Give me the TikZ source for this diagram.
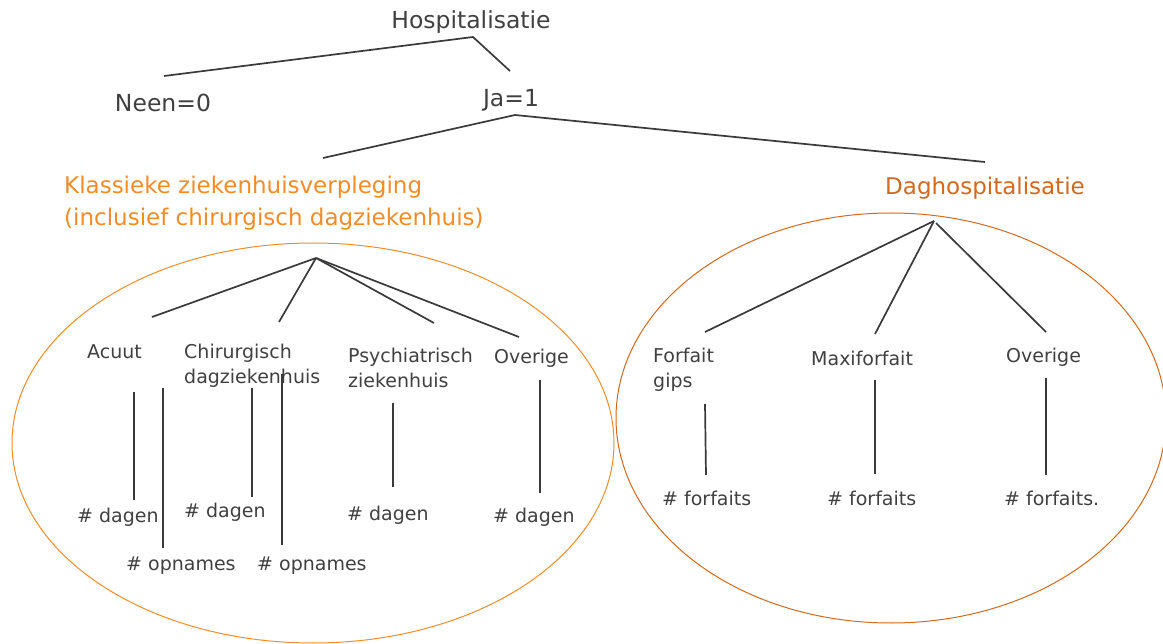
\documentclass[tikz,border=0pt]{standalone}
\usepackage{fontspec}
\setmainfont{DejaVu Sans}
\definecolor{txt}{HTML}{404040}
\definecolor{ln}{HTML}{3A3A3A}
\definecolor{orlight}{HTML}{F28C28}
\definecolor{ordark}{HTML}{D2691E}
\begin{document}
\begin{tikzpicture}[x=1pt,y=-1pt,
  big/.style={text=txt,font=\fontsize{23.5}{28}\selectfont,inner sep=0pt},
  small/.style={text=txt,font=\fontsize{19}{25}\selectfont,inner sep=0pt,align=left,anchor=west},
  head/.style={font=\fontsize{23}{32}\selectfont,inner sep=0pt,align=left,anchor=west},
  edge/.style={draw=ln,line width=1.7pt},
  oval/.style={line width=1pt}]
\useasboundingbox (0,0) rectangle (1163,644);
% ellipses
\draw[oval,draw=orlight] (313,443) ellipse [x radius=301, y radius=200];
\draw[oval,draw=ordark] (891,418) ellipse [x radius=275, y radius=205];
% top
\node[big] (hosp) at (471,22) {Hospitalisatie};
\node[big] (neen) at (163,103) {Neen=0};
\node[big] (ja) at (511,100) {Ja=1};
\coordinate (h0) at (473,37);
\coordinate (nTop) at (164,76);
\coordinate (jTop) at (510,71);
\draw[edge] (nTop) -- (h0) -- (jTop);
\coordinate (j0) at (515,115);
\coordinate (kTop) at (323,158);
\coordinate (dTop) at (985,162);
\draw[edge] (kTop) -- (j0) -- (dTop);
\node[head,text=orlight] (klas) at (64,203) {Klassieke ziekenhuisverpleging\\(inclusief chirurgisch dagziekenhuis)};
\node[head,text=ordark] (dagh) at (885,188) {Daghospitalisatie};
% left tree
\coordinate (L0) at (316,258);
\coordinate (Lacu) at (152,317);
\coordinate (Lchi) at (279,322);
\coordinate (Lpsy) at (434,323);
\coordinate (Love) at (519,337);
\draw[edge] (L0) -- (Lacu);
\draw[edge] (L0) -- (Lchi);
\draw[edge] (L0) -- (Lpsy);
\draw[edge] (L0) -- (Love);
\node[small] (acuut) at (87,352) {Acuut};
\node[small] (chir) at (184,365.5) {Chirurgisch\\dagziekenhuis};
\node[small] (psy) at (348,367.5) {Psychiatrisch\\ziekenhuis};
\node[small] (ove) at (494,358) {Overige};
\node[small] (d1) at (77,517) {\# dagen};
\node[small] (d2) at (184,512) {\# dagen};
\node[small] (d3) at (347,515) {\# dagen};
\node[small] (d4) at (493,517) {\# dagen};
\node[small] (o1) at (126,566) {\# opnames};
\node[small] (o2) at (257,566) {\# opnames};
\coordinate (a1t) at (134,392); \coordinate (a1b) at (134,500);
\coordinate (a2t) at (163,388); \coordinate (a2b) at (163,548);
\coordinate (c1t) at (252,388); \coordinate (c1b) at (252,497);
\coordinate (c2t) at (282,374); \coordinate (c2b) at (282,545);
\coordinate (p1t) at (393,403); \coordinate (p1b) at (393,487);
\coordinate (v1t) at (540,380); \coordinate (v1b) at (540,493);
\draw[edge] (a1t) -- (a1b);
\draw[edge] (a2t) -- (a2b);
\draw[edge] (c1t) -- (c1b);
\draw[edge] (c2t) -- (c2b);
\draw[edge] (p1t) -- (p1b);
\draw[edge] (v1t) -- (v1b);
% right tree
\coordinate (R0) at (934,221);
\coordinate (R0b) at (936,223);
\coordinate (Rfor) at (705,332);
\coordinate (Rmax) at (875,334);
\coordinate (Rove) at (1046,332);
\draw[edge] (R0) -- (Rfor);
\draw[edge] (R0) -- (Rmax);
\draw[edge] (R0b) -- (Rove);
\node[small] (forf) at (653,370) {Forfait\\gips};
\node[small] (maxi) at (811,358) {Maxiforfait};
\node[small] (ove2) at (1006,357) {Overige};
\node[small] (f1) at (662,498) {\# forfaits};
\node[small] (f2) at (827,498) {\# forfaits};
\node[small] (f3) at (1004,498) {\# forfaits.};
\coordinate (r1t) at (705,404); \coordinate (r1b) at (706,475);
\coordinate (r2t) at (875,380); \coordinate (r2b) at (875,474);
\coordinate (r3t) at (1046,378); \coordinate (r3b) at (1046,475);
\draw[edge] (r1t) -- (r1b);
\draw[edge] (r2t) -- (r2b);
\draw[edge] (r3t) -- (r3b);
\end{tikzpicture}
\end{document}
